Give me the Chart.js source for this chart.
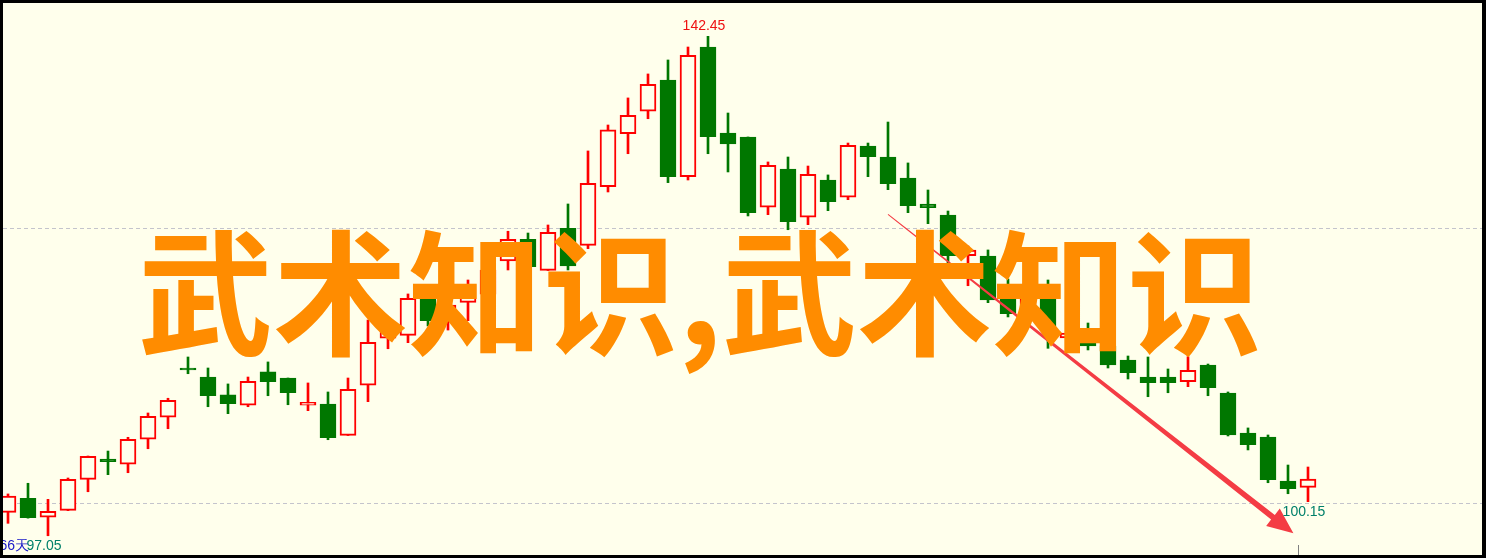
<!DOCTYPE html>
<html>
<head>
<meta charset="utf-8">
<script src="https://cdn.jsdelivr.net/npm/chart.js@4.4.1/dist/chart.umd.min.js"></script>
<style>
  html, body { margin: 0; padding: 0; background: #fff; }
  #frame {
    width: 1486px; height: 558px; box-sizing: border-box;
    border-style: solid; border-color: #000; border-width: 3px 4px 3px 3px;
    background: #FFFFEC;
  }
  canvas { display: block; }
</style>
</head>
<body>
<div id="frame"><canvas id="kline" width="1479" height="552"></canvas></div>
<script>
// daily candles (left to right)
const opens = [99.18, 100.45, 98.73, 99.36, 102.18, 104.03, 103.55, 105.82, 107.82, 112.30,
  111.48, 109.85, 108.91, 111.94, 111.39, 108.91, 109.03, 106.18, 110.73, 115.00,
  115.27, 119.21, 116.48, 118.27, 119.00, 122.03, 124.00, 121.18, 125.00, 123.45,
  128.78, 133.60, 135.64, 138.48, 129.69, 141.48, 133.66, 133.30, 126.91, 130.39,
  126.00, 129.39, 127.82, 132.48, 131.48, 129.57, 127.21, 126.21, 122.51, 122.48,
  119.85, 117.03, 119.39, 115.03, 114.85, 114.30, 113.03, 111.48, 111.48, 111.05,
  112.57, 110.03, 106.39, 106.03, 102.03, 101.45];
const closes = [100.66, 98.69, 99.27, 102.18, 104.27, 103.78, 105.82, 107.91, 109.36, 112.12,
  109.78, 109.05, 111.09, 111.05, 110.05, 109.18, 105.96, 110.36, 114.64, 116.12,
  118.64, 116.60, 118.03, 119.85, 121.21, 124.00, 121.51, 124.64, 121.57, 129.09,
  133.94, 135.27, 138.09, 129.69, 140.73, 133.33, 132.66, 126.42, 130.73, 125.60,
  129.91, 127.42, 132.55, 131.51, 129.05, 127.05, 126.87, 122.51, 123.03, 118.48,
  117.24, 118.57, 115.66, 115.48, 114.30, 112.57, 111.87, 110.96, 110.96, 112.09,
  110.51, 106.21, 105.33, 102.15, 101.33, 102.21];
const highs = [100.85, 101.82, 100.36, 102.30, 104.30, 104.75, 106.00, 108.21, 109.55, 113.30,
  112.30, 110.85, 111.48, 112.85, 111.39, 110.94, 110.12, 111.39, 116.66, 116.85,
  119.03, 119.85, 118.48, 120.30, 121.94, 124.73, 124.57, 125.30, 127.21, 132.03,
  134.39, 136.85, 139.03, 140.30, 141.48, 142.45, 135.48, 133.30, 131.03, 131.48,
  130.66, 129.85, 132.75, 132.75, 134.66, 130.94, 128.48, 126.57, 123.39, 123.03,
  120.39, 119.12, 120.30, 116.21, 116.39, 114.85, 113.39, 113.30, 112.21, 113.33,
  112.66, 110.12, 106.85, 106.21, 103.48, 103.30];
const lows = [98.18, 98.65, 97.05, 99.33, 101.05, 102.60, 102.78, 104.96, 106.78, 111.78,
  108.78, 108.15, 108.78, 109.78, 108.96, 108.42, 105.78, 106.16, 109.24, 114.05,
  114.60, 116.12, 115.75, 116.60, 118.48, 121.21, 121.48, 121.16, 121.21, 123.15,
  128.30, 131.78, 134.96, 129.15, 129.39, 131.78, 130.12, 126.12, 126.24, 124.87,
  125.33, 126.60, 127.60, 129.69, 128.51, 126.42, 125.42, 121.66, 119.78, 118.24,
  116.94, 116.66, 114.09, 114.66, 113.94, 112.30, 111.30, 109.69, 110.05, 110.60,
  109.78, 106.12, 104.85, 101.87, 100.87, 100.15];

const gridLevels = [100, 125];          // dashed price lines
const lowMarks = [2, 65];               // candles whose low gets a label
const periodText = '66天';
const watermark = '武术知识,武术知识';
const arrowFrom = [44.0, 126.27];       // [candle index, price]
const arrowTo = [64.27, 97.27];
const cursorAt = 64.5;

const bg = '#FFFFEC';
const upColor = '#FF0000';
const downColor = '#007700';

const isUp = opens.map((o, i) => closes[i] >= o);
const bodyData = opens.map((o, i) => ({ x: i, y: [o, closes[i]] }));
const wickData = opens.map((o, i) => ({ x: i, y: [lows[i], highs[i]] }));

const overlay = {
  id: 'overlay',
  afterDatasetsDraw(chart) {
    const { ctx, scales: { x, y }, chartArea } = chart;
    ctx.save();

    // trend arrow (thin at start, thick near the head)
    const p0 = { x: x.getPixelForValue(arrowFrom[0]), y: y.getPixelForValue(arrowFrom[1]) };
    const p1 = { x: x.getPixelForValue(arrowTo[0]), y: y.getPixelForValue(arrowTo[1]) };
    const len = Math.hypot(p1.x - p0.x, p1.y - p0.y);
    const ux = (p1.x - p0.x) / len, uy = (p1.y - p0.y) / len;
    const nx = -uy, ny = ux;
    const headLen = 26, headW = 11, w0 = 0.5, w1 = 3;
    const bx = p1.x - ux * headLen, by = p1.y - uy * headLen;
    ctx.beginPath();
    ctx.moveTo(p0.x + nx * w0, p0.y + ny * w0);
    ctx.lineTo(bx + nx * w1, by + ny * w1);
    ctx.lineTo(bx + nx * headW, by + ny * headW);
    ctx.lineTo(p1.x, p1.y);
    ctx.lineTo(bx - nx * headW, by - ny * headW);
    ctx.lineTo(bx - nx * w1, by - ny * w1);
    ctx.lineTo(p0.x - nx * w0, p0.y - ny * w0);
    ctx.closePath();
    ctx.fillStyle = '#F43C44';
    ctx.fill();

    // cursor tick at the bottom
    const cx = Math.round(x.getPixelForValue(cursorAt)) + 0.5;
    ctx.strokeStyle = '#808080';
    ctx.lineWidth = 1;
    ctx.beginPath();
    ctx.moveTo(cx, chartArea.bottom - 10);
    ctx.lineTo(cx, chartArea.bottom);
    ctx.stroke();

    // high / low price marks
    ctx.font = '14px "Liberation Sans", Arial, sans-serif';
    ctx.textAlign = 'center';
    ctx.textBaseline = 'middle';
    const hi = highs.indexOf(Math.max(...highs));
    ctx.fillStyle = '#EE1111';
    ctx.fillText(highs[hi].toFixed(2), x.getPixelForValue(hi) - 4, y.getPixelForValue(highs[hi]) - 10);
    ctx.fillStyle = '#00806A';
    lowMarks.forEach(i => {
      ctx.fillText(lows[i].toFixed(2), x.getPixelForValue(i) - 4, y.getPixelForValue(lows[i]) + 10);
    });
    ctx.fillStyle = '#1818C8';
    ctx.textAlign = 'right';
    ctx.fillText(periodText, x.getPixelForValue(lowMarks[0]) - 19, y.getPixelForValue(lows[lowMarks[0]]) + 10);

    // watermark on top
    ctx.font = 'bold 135px "Noto Sans CJK SC", sans-serif';
    ctx.fillStyle = '#FF8C00';
    ctx.textAlign = 'center';
    ctx.textBaseline = 'middle';
    ctx.fillText(watermark, 697, 291);

    ctx.restore();
  }
};

new Chart(document.getElementById('kline'), {
  type: 'bar',
  data: {
    datasets: [
      {
        label: 'body',
        data: bodyData,
        order: 1,
        grouped: false,
        barThickness: 16,
        borderWidth: 2,
        borderSkipped: false,
        backgroundColor: isUp.map(u => u ? bg : downColor),
        borderColor: isUp.map(u => u ? upColor : downColor)
      },
      {
        label: 'wick',
        data: wickData,
        order: 2,
        grouped: false,
        barThickness: 2,
        borderWidth: 0,
        backgroundColor: isUp.map(u => u ? upColor : downColor)
      }
    ]
  },
  options: {
    responsive: false,
    animation: false,
    devicePixelRatio: 1,
    layout: { padding: 0 },
    plugins: { legend: { display: false }, tooltip: { enabled: false } },
    scales: {
      x: { type: 'linear', min: -0.25, max: 73.7, offset: false, display: false, grid: { offset: false } },
      y: {
        min: 95.30,
        max: 145.48,
        position: 'left',
        afterFit: s => { s.width = 0; },
        afterBuildTicks: s => { s.ticks = gridLevels.map(v => ({ value: v })); },
        ticks: { display: false },
        border: { display: false, dash: [4, 3] },
        grid: { color: '#C4C4CC', lineWidth: 1, drawTicks: false }
      }
    }
  },
  plugins: [overlay]
});
</script>
</body>
</html>
